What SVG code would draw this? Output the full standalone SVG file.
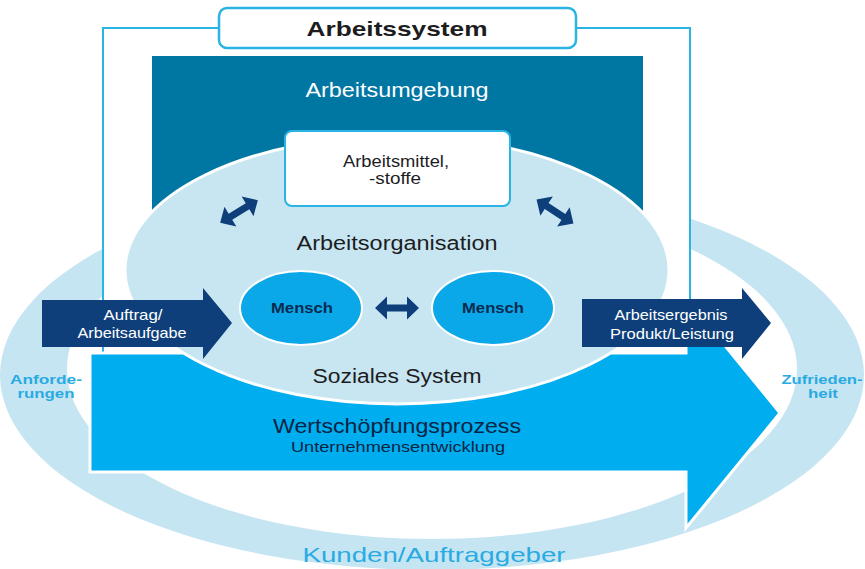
<svg xmlns="http://www.w3.org/2000/svg" width="865" height="569" viewBox="0 0 865 569">
<defs>
<style>
text{font-family:"Liberation Sans",Arial,sans-serif;text-anchor:middle}
.dk{fill:#1d1d1f}
.wt{fill:#ffffff}
.cy{fill:#29abe2;font-weight:bold}
.nv{fill:#0e3f7a}
</style>
<path id="dbl" d="M-22,0 L-10,-11.5 L-10,-3.5 L10,-3.5 L10,-11.5 L22,0 L10,11.5 L10,3.5 L-10,3.5 L-10,11.5 Z"/>
</defs>
<rect width="865" height="569" fill="#ffffff"/>
<g id="kunden">
<path fill="#c6e5f2" fill-rule="evenodd" d="M0,375 a432,195 0 1,0 864,0 a432,195 0 1,0 -864,0Z M67,369 a365,170 0 1,0 730,0 a365,170 0 1,0 -730,0Z"/>
<text class="cy" x="46" y="384" font-size="12" textLength="72" lengthAdjust="spacingAndGlyphs">Anforde-</text>
<text class="cy" x="46" y="398" font-size="12" textLength="57" lengthAdjust="spacingAndGlyphs">rungen</text>
<text class="cy" x="822" y="384" font-size="12" textLength="81" lengthAdjust="spacingAndGlyphs">Zufrieden-</text>
<text class="cy" x="823" y="398" font-size="12" textLength="30" lengthAdjust="spacingAndGlyphs">heit</text>
<text x="434" y="562" font-size="21" fill="#29abe2" textLength="263" lengthAdjust="spacingAndGlyphs">Kunden/Auftraggeber</text>
</g>
<g id="arbeitssystem">
<rect x="103" y="28" width="587" height="326" fill="#ffffff" stroke="#29b4e4" stroke-width="2"/>
<rect x="219" y="8" width="357" height="40" rx="8" fill="#ffffff" stroke="#29b4e4" stroke-width="2.5"/>
<text class="dk" x="397" y="36" font-size="21" font-weight="bold" textLength="181" lengthAdjust="spacingAndGlyphs">Arbeitssystem</text>
</g>
<g id="arbeitsumgebung">
<rect x="152" y="56" width="491" height="159" fill="#0076a3"/>
<text class="wt" x="397" y="97" font-size="20" textLength="183" lengthAdjust="spacingAndGlyphs">Arbeitsumgebung</text>
</g>
<g id="wertschoepfung">
<path d="M90,353 L686,353 L686,298 L780,413 L686,528 L686,472 L90,472 Z" fill="#00adef" stroke="#ffffff" stroke-width="3" stroke-linejoin="miter"/>
<text x="397" y="433" font-size="20" fill="#0a2444" textLength="248" lengthAdjust="spacingAndGlyphs">Wertschöpfungsprozess</text>
<text x="398" y="452" font-size="14" fill="#0a2444" textLength="214" lengthAdjust="spacingAndGlyphs">Unternehmensentwicklung</text>
</g>
<g id="arbeitsorganisation">
<ellipse cx="397" cy="270" rx="272" ry="134" fill="#c7e6f2" stroke="#ffffff" stroke-width="3"/>
<text class="dk" x="397" y="250" font-size="20" textLength="201" lengthAdjust="spacingAndGlyphs">Arbeitsorganisation</text>
<text class="dk" x="397" y="383" font-size="20" textLength="169" lengthAdjust="spacingAndGlyphs">Soziales System</text>
</g>
<g id="arbeitsmittel">
<rect x="285" y="131" width="225" height="75" rx="7" fill="#ffffff" stroke="#29b4e4" stroke-width="2"/>
<text class="dk" x="396" y="167" font-size="16" textLength="106" lengthAdjust="spacingAndGlyphs">Arbeitsmittel,</text>
<text class="dk" x="395" y="184" font-size="16" textLength="52" lengthAdjust="spacingAndGlyphs">-stoffe</text>
</g>
<g id="mensch1">
<ellipse cx="301" cy="308" rx="61" ry="37" fill="#0aa8e8" stroke="#ffffff" stroke-width="2"/>
<text x="302" y="313" font-size="15" font-weight="bold" fill="#0b2a4f" textLength="62" lengthAdjust="spacingAndGlyphs">Mensch</text>
</g>
<g id="mensch2">
<ellipse cx="493" cy="308" rx="61" ry="37" fill="#0aa8e8" stroke="#ffffff" stroke-width="2"/>
<text x="493" y="313" font-size="15" font-weight="bold" fill="#0b2a4f" textLength="62" lengthAdjust="spacingAndGlyphs">Mensch</text>
</g>
<g id="auftrag">
<path class="nv" d="M42,300 L203,300 L203,288 L232,323 L203,359 L203,347 L42,347 Z"/>
<text class="wt" x="133" y="320" font-size="14.5" textLength="59" lengthAdjust="spacingAndGlyphs">Auftrag/</text>
<text class="wt" x="132" y="338" font-size="14.5" textLength="109" lengthAdjust="spacingAndGlyphs">Arbeitsaufgabe</text>
</g>
<g id="arbeitsergebnis">
<path class="nv" d="M582,299 L742,299 L742,288 L771,323 L742,359 L742,347 L582,347 Z"/>
<text class="wt" x="671" y="320" font-size="14.5" textLength="113" lengthAdjust="spacingAndGlyphs">Arbeitsergebnis</text>
<text class="wt" x="672" y="339" font-size="14.5" textLength="124" lengthAdjust="spacingAndGlyphs">Produkt/Leistung</text>
</g>
<g id="connectors" class="nv" fill="#164b86">
<use href="#dbl" transform="translate(397,308)"/>
<use href="#dbl" transform="translate(239,211.5) rotate(-31)"/>
<use href="#dbl" transform="translate(555,211.5) rotate(33)"/>
</g>
</svg>
